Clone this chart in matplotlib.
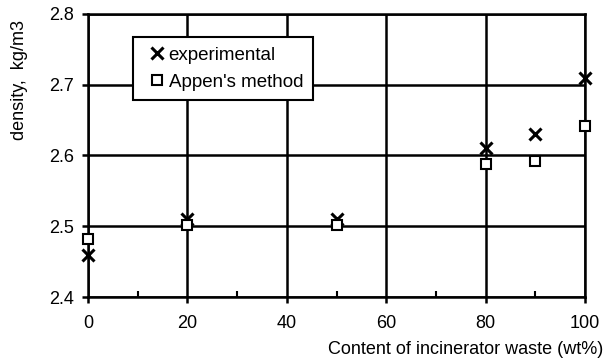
import matplotlib.pyplot as plt

plt.rcParams['font.family'] = ['Liberation Sans', 'DejaVu Sans']

waste = [0, 20, 50, 80, 90, 100]
experimental = [2.46, 2.51, 2.51, 2.61, 2.63, 2.71]
appen = [2.482, 2.502, 2.502, 2.588, 2.592, 2.641]

fig = plt.figure(figsize=(6.07, 3.63), dpi=100)
ax = fig.add_axes([88/607, 1 - 297/363, 497/607, 283/363])

ax.plot(waste, experimental, linestyle='none', marker='x', color='black',
        markersize=9, markeredgewidth=2.2, label='experimental', zorder=5, clip_on=False)
ax.plot(waste, appen, linestyle='none', marker='s', markerfacecolor='white',
        markeredgecolor='black', markersize=7, markeredgewidth=1.5,
        label="Appen's method", zorder=6, clip_on=False)

ax.set_xlim(0, 100)
ax.set_ylim(2.4, 2.8)
ax.set_xticks([0, 20, 40, 60, 80, 100])
ax.set_xticks([10, 30, 50, 70, 90], minor=True)
ax.set_yticks([2.4, 2.5, 2.6, 2.7, 2.8])
ax.set_yticklabels(['2.4', '2.5', '2.6', '2.7', '2.8'])
ax.grid(True, which='major', color='black', linewidth=1.8)
ax.set_axisbelow(True)
for s in ax.spines.values():
    s.set_linewidth(1.8)
ax.tick_params(axis='both', which='major', direction='out', length=4, width=1.8,
               labelsize=13)
ax.tick_params(axis='y', which='major', pad=6)
ax.tick_params(axis='x', which='major', pad=9)
ax.tick_params(axis='x', which='minor', direction='in', length=4, width=1.5)

fig.text(20/607, 1 - 80/363, 'density,  kg/m3', fontsize=13, rotation=90,
         ha='center', va='center')
fig.text(603/607, 1 - 349/363, 'Content of incinerator waste (wt%)', fontsize=13,
         ha='right', va='center')

leg = ax.legend(loc='upper left', bbox_to_anchor=((133-88)/497, (297-37)/283),
                frameon=True, fancybox=False, edgecolor='black', framealpha=1,
                fontsize=13.5, handlelength=1.6, handletextpad=-0.2, borderpad=0.5,
                borderaxespad=0, labelspacing=0.55)
leg.get_frame().set_linewidth(1.5)

fig.savefig('out.png', dpi=100)
